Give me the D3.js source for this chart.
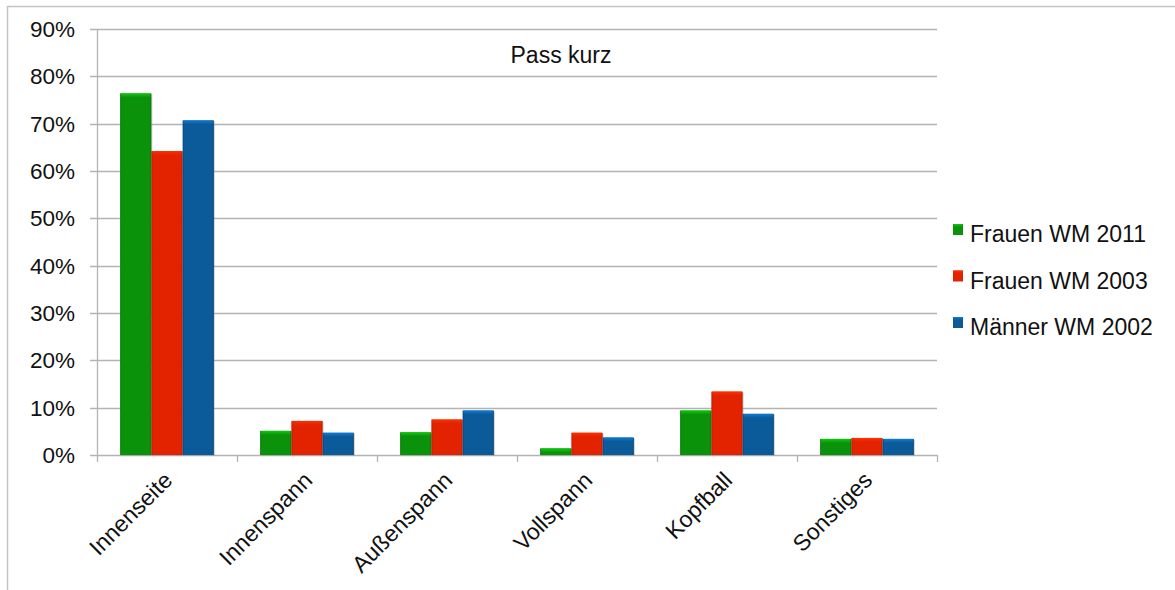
<!DOCTYPE html>
<html>
<head>
<meta charset="utf-8">
<script src="https://cdn.jsdelivr.net/npm/d3@7/dist/d3.min.js"></script>
<style>
  body { margin: 0; background: #fff; }
  svg { display: block; font-family: "Liberation Sans", Arial, Helvetica, sans-serif; }
</style>
</head>
<body>
<svg id="chart" width="1175" height="590"></svg>
<script>
// Categories and series (shares of short passes by contact type, in %)
const categories = ["Innenseite", "Innenspann", "Außenspann", "Vollspann", "Kopfball", "Sonstiges"];
const seriesNames = ["Frauen WM 2011", "Frauen WM 2003", "Männer WM 2002"];
const frauen2011 = [76.4, 5.1, 4.8, 1.4, 9.4, 3.4];
const frauen2003 = [64.2, 7.2, 7.5, 4.7, 13.4, 3.6];
const maenner2002 = [70.7, 4.7, 9.4, 3.7, 8.7, 3.4];
const yTicks = [0, 10, 20, 30, 40, 50, 60, 70, 80, 90];
const chartTitle = "Pass kurz";

const seriesValues = [frauen2011, frauen2003, maenner2002];
const colors = ["#0a930a", "#e32300", "#0b5a9a"];

const svg = d3.select("#chart");
const defs = svg.append("defs");

// Bevelled bar look: darker at the sides, lighter strip on top
colors.forEach((c, i) => {
  const base = d3.color(c);
  const g = defs.append("linearGradient").attr("id", "side" + i)
    .attr("x1", 0).attr("x2", 1).attr("y1", 0).attr("y2", 0);
  g.append("stop").attr("offset", 0).attr("stop-color", base.darker(0.6));
  g.append("stop").attr("offset", 0.06).attr("stop-color", base);
  g.append("stop").attr("offset", 0.94).attr("stop-color", base);
  g.append("stop").attr("offset", 1).attr("stop-color", base.darker(0.6));
  const t = defs.append("linearGradient").attr("id", "top" + i)
    .attr("x1", 0).attr("x2", 0).attr("y1", 0).attr("y2", 1);
  t.append("stop").attr("offset", 0).attr("stop-color", base.brighter(0.9));
  t.append("stop").attr("offset", 1).attr("stop-color", base);
});

// Outer frame
svg.append("rect").attr("x", 7.5).attr("y", 6.5).attr("width", 1200).attr("height", 700)
  .attr("fill", "none").attr("stroke", "#c4c4c4").attr("stroke-width", 1.5);

const margin = { left: 97, right: 937, top: 29, bottom: 455 };

const x = d3.scaleBand().domain(categories).range([margin.left, margin.right]).paddingInner(0).paddingOuter(0);
const xs = d3.scaleBand().domain(seriesNames).range([0, x.bandwidth()]).paddingOuter(0.74).paddingInner(0);
const y = d3.scaleLinear().domain([0, 90]).range([margin.bottom, margin.top]);

// Horizontal gridlines
svg.append("g").selectAll("line").data(yTicks).join("line")
  .attr("x1", margin.left - 7).attr("x2", margin.right)
  .attr("y1", d => Math.round(y(d)) + 0.5).attr("y2", d => Math.round(y(d)) + 0.5)
  .attr("stroke", "#b3b3b3").attr("stroke-width", 1.3);

// Y axis line
svg.append("line").attr("x1", margin.left + 0.5).attr("x2", margin.left + 0.5)
  .attr("y1", margin.top).attr("y2", margin.bottom + 0.5)
  .attr("stroke", "#b3b3b3").attr("stroke-width", 1.3);

// Y tick labels
svg.append("g").selectAll("text").data(yTicks).join("text")
  .attr("x", 75).attr("y", d => y(d)).attr("dy", "0.36em")
  .attr("text-anchor", "end").attr("font-size", 22.5).attr("fill", "#111")
  .text(d => d + "%");

// X ticks at category boundaries
const boundaries = categories.map(c => x(c)).concat([margin.right]);
svg.append("g").selectAll("line").data(boundaries).join("line")
  .attr("x1", d => Math.round(d) + 0.5).attr("x2", d => Math.round(d) + 0.5)
  .attr("y1", margin.bottom).attr("y2", margin.bottom + 7)
  .attr("stroke", "#b3b3b3").attr("stroke-width", 1.3);

// Bars
const groups = svg.append("g").selectAll("g").data(categories).join("g")
  .attr("transform", c => `translate(${x(c)},0)`);

groups.each(function(c, ci) {
  const g = d3.select(this);
  seriesValues.forEach((vals, si) => {
    const v = vals[ci];
    const bx = xs(seriesNames[si]);
    const bw = xs.bandwidth();
    const top = y(v);
    const h = y(0) - top;
    g.append("rect").attr("x", bx + 1).attr("y", top + 1).attr("width", bw).attr("height", h)
      .attr("fill", "#999").attr("opacity", 0.45);
    g.append("rect").attr("x", bx).attr("y", top).attr("width", bw).attr("height", h)
      .attr("fill", `url(#side${si})`);
    g.append("rect").attr("x", bx + 1).attr("y", top).attr("width", bw - 2).attr("height", Math.min(4, h))
      .attr("fill", `url(#top${si})`);
  });
});

// Category labels, rotated
svg.append("g").selectAll("text").data(categories).join("text")
  .attr("transform", c => `translate(${x(c) + x.bandwidth() / 2 + 1},${margin.bottom + 21}) rotate(-45)`)
  .attr("text-anchor", "end").attr("font-size", 23).attr("fill", "#111")
  .attr("dy", "0.35em")
  .text(c => c);

// Title
svg.append("text").attr("x", 561).attr("y", 63).attr("text-anchor", "middle")
  .attr("font-size", 23).attr("fill", "#111").text(chartTitle);

// Legend
const legend = svg.append("g").selectAll("g").data(seriesNames).join("g")
  .attr("transform", (d, i) => `translate(953,${242 + i * 46.5})`);
legend.append("rect").attr("x", 0).attr("y", -18).attr("width", 10).attr("height", 11)
  .attr("fill", (d, i) => `url(#side${i})`);
legend.append("rect").attr("x", 0.5).attr("y", -18).attr("width", 9).attr("height", 3)
  .attr("fill", (d, i) => `url(#top${i})`);
legend.append("text").attr("x", 17).attr("y", 0).attr("font-size", 23).attr("fill", "#111")
  .text(d => d);
</script>
</body>
</html>
